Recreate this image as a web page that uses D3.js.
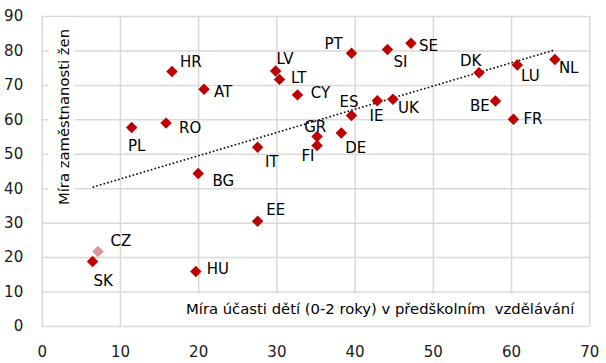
<!DOCTYPE html>
<html><head><meta charset="utf-8">
<script src="https://cdn.jsdelivr.net/npm/d3@7"></script>
<style>
html,body{margin:0;padding:0;background:#fff;}
svg{display:block;font-family:"DejaVu Sans",sans-serif;}
</style></head>
<body>
<svg id="chart" width="606" height="363"></svg>
<script>
// ---- data ----
const countries = ["AT","BE","BG","CY","CZ","DE","DK","EE","ES","FI","FR","GR","HR","HU","IE","IT","LT","LU","LV","NL","PL","PT","RO","SE","SI","SK","UK"];
const childcare = [20.75,58.0,20.0,32.7,7.2,38.3,55.9,27.6,39.6,35.2,60.3,35.2,16.65,19.7,42.9,27.6,30.4,60.8,29.9,65.6,11.5,39.6,15.9,47.2,44.2,6.5,44.9];
const employment = [68.7,65.3,44.3,67.1,21.6,56.0,73.5,30.4,61.1,52.4,60.0,55.0,73.9,15.8,65.4,51.9,71.6,75.8,74.0,77.4,57.6,79.2,58.9,82.1,80.3,18.7,65.8];
const highlighted = ["CZ"];
const trendX = [6.5, 65.5];
const trendY = [40.3, 80.1];
const xTicks = [0,10,20,30,40,50,60,70];
const yTicks = [0,10,20,30,40,50,60,70,80,90];
const xTitle = "Míra účasti dětí (0-2 roky) v předškolním  vzdělávání";
const yTitle = "Míra zaměstnanosti žen";

// ---- label placement (layout) ----
const labelOffset = {
  AT:[10,7.4], BE:[-25.5,10], BG:[14.3,12.7], CY:[13.3,2.7], CZ:[12.4,-5.7], DE:[4,19.4],
  DK:[-19,-6.7], EE:[8.7,-6.3], ES:[-12,-8.4], FI:[-15.6,15.6], FR:[10,4.7], GR:[-12.8,-5],
  HR:[8,-4.6], HU:[11,2.6], IE:[-7.7,20], IT:[7.3,19.4], LT:[11.4,4], LU:[3.7,15.7],
  LV:[1,-6.7], NL:[4,14], PL:[-3.7,23], PT:[-27,-4], RO:[13,9.7], SE:[8,7.4],
  SI:[6,18], SK:[1,24.3], UK:[5,14]
};

const FS = 15;
const svg = d3.select("#chart");
const x = d3.scaleLinear().domain([0,70]).range([41.7,589.3]);
const y = d3.scaleLinear().domain([0,90]).range([326,16]);
const gridColor = "#d9d9d9";

// vertical gridlines + x tick labels
const gx = svg.append("g").attr("transform","translate(0,326)")
  .call(d3.axisBottom(x).tickValues(xTicks).tickSize(-310).tickPadding(20).tickSizeOuter(0));
gx.select(".domain").remove();
gx.selectAll(".tick line").attr("stroke",gridColor).attr("stroke-width",1.5);
gx.selectAll(".tick text").attr("font-size",FS).attr("fill","#1a1a1a").attr("font-family","DejaVu Sans");

// horizontal gridlines + y tick labels
const gy = svg.append("g").attr("transform","translate(41.7,0)")
  .call(d3.axisLeft(y).tickValues(yTicks).tickSize(-547.6).tickPadding(18.5).tickSizeOuter(0));
gy.select(".domain").remove();
gy.selectAll(".tick line").attr("stroke",gridColor).attr("stroke-width",1.5);
gy.selectAll(".tick text").attr("font-size",FS).attr("fill","#1a1a1a").attr("font-family","DejaVu Sans");

// axis title boxes
svg.append("rect").attr("x",48).attr("y",17).attr("width",26.5).attr("height",195).attr("fill","#fff");
svg.append("rect").attr("x",177).attr("y",294).attr("width",410).attr("height",30.8).attr("fill","#fff");

svg.append("text")
  .attr("transform","translate(68.5,117) rotate(-90)")
  .attr("text-anchor","middle").attr("font-size",14.8).attr("fill","#000")
  .text(yTitle);
svg.append("text")
  .attr("x",186).attr("y",314.3).attr("font-size",14.8).attr("fill","#000")
  .style("white-space","pre")
  .text(xTitle);

// trendline
svg.append("line")
  .attr("x1",x(trendX[0])).attr("y1",y(trendY[0]))
  .attr("x2",x(trendX[1])).attr("y2",y(trendY[1]))
  .attr("stroke","#000").attr("stroke-width",1.6).attr("stroke-dasharray","1.6,2.2");

// points
const pts = countries.map((c,i)=>({c, x:childcare[i], y:employment[i]}));
const diamond = d3.symbol().type(d3.symbolSquare).size(66);
svg.append("g").selectAll("path").data(pts).join("path")
  .attr("d",diamond)
  .attr("transform",d=>`translate(${x(d.x)},${y(d.y)}) rotate(45)`)
  .attr("fill",d=>highlighted.includes(d.c)?"#da9694":"#c00000");

// labels
svg.append("g").selectAll("text").data(pts).join("text")
  .attr("x",d=>x(d.x)+labelOffset[d.c][0])
  .attr("y",d=>y(d.y)+labelOffset[d.c][1])
  .attr("font-size",FS).attr("fill","#000")
  .text(d=>d.c);
</script>
</body></html>
